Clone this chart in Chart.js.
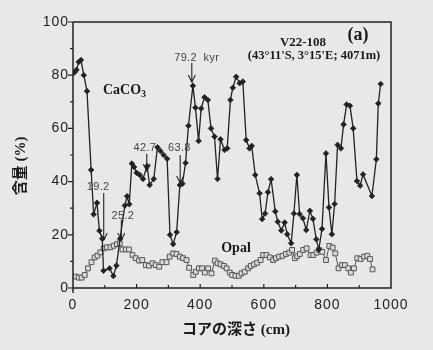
<!DOCTYPE html>
<html><head><meta charset="utf-8">
<script src="https://cdn.jsdelivr.net/npm/chart.js@4.4.1/dist/chart.umd.min.js"></script>
<style>html,body{margin:0;padding:0;background:#e8e8e6;}#wrap{width:433px;height:350px;}</style>
</head><body><div id="wrap"><canvas id="c" width="433" height="350"></canvas></div>
<script>
// ---- data (depth in cm, content in %) ----
const caco3Depth = [4,11,18,25,34,44,57,65,75.5,83,92,96,115,127,136.5,148,163,170,177,185,192,200,210,220,233,241,254,265.6,275,285,296,305,315,326,336,344,354,363,377,385,395,403,413.5,424,434,445,454.5,464,476.5,485,495,502.6,513,524,534,544.6,555,562,573,586.7,595,604,613,623,636,644,655,665.5,673.6,686,694.7,704,712.5,723,733.5,745,754.5,765,773,783,795.5,805,814,822.7,832,842.6,851,860.6,871,881,893,903,912,940,954,960,967.5];
const caco3Pct = [81,82,85,85.7,80,74,44.4,27.7,32,21.5,18.5,6.5,7.4,4.5,8.4,18.5,31,34.5,31.5,46.8,45.5,43.3,42.5,41,45.8,38.7,41,52.9,51.5,50,48.6,20,16.5,21,38.7,39.2,47,61,76,67.8,55.3,67.5,71.7,70.7,60,56.9,41,55.9,51.9,52.5,70.7,75.3,79.4,77,77.6,55.6,52.5,53.4,42.5,35.6,25.9,28,36,40.9,28.8,24.9,21.6,24.6,20.2,16.8,28,42.5,27.8,26.2,21.8,29,26,18.3,14.5,22.2,50.6,30.3,20.2,31.6,53.8,52.5,61.5,69,68.5,60,40.2,38.5,42.7,34.6,48.4,69.4,76.7];
const opalDepth = [8.5,18,27,37,47,58,68,77,86,96.6,107,118,128,138,147,155.5,166,176,187,197,208,218,229,239,250,260,271,281,294,304,315,325.5,336,346,357,365,378,386,396,406,414.5,425,435.6,446,454.5,464,474,483,493,500.5,511,521.5,530,540,551,559,569,579,590,598,608.6,619,629.5,638,648,659,669.5,680,689,698,705,713.5,724,734.6,747,755.5,766,774,784,795.5,806,816.5,824.7,835,846,855,865.6,874,883.5,894,904.6,915,925.5,934,942];
const opalPct = [4.3,3.9,3.9,4.9,7.4,9.7,11.5,12.2,13.4,14.9,15.3,15.3,15.9,16.5,16.8,14.5,14.5,14.5,12.4,11.2,10.3,10.5,8.6,8.4,9.3,8.6,8,9.7,9.7,11.8,13,12.8,11.8,11.2,10.5,7.6,4.9,6.1,7.4,7.4,5.8,7.4,5.5,10.3,9.3,8.9,8.3,7.4,5.8,4.9,4.6,4.6,5.5,6.1,7.4,8.3,8.9,9.5,10.5,12.4,12.4,11.5,10.5,11.2,11.8,12.1,12.8,13.3,14.3,11.2,12,12.8,14.3,14.9,12.4,12.4,13.3,14.3,13.6,10.5,15.8,15.2,13,7.4,8.6,8.6,7.4,5.8,7.4,11.2,10.9,11.8,12.1,10.9,7];
const xTickValues = [0,200,400,600,800,1000];
const yTickValues = [0,20,40,60,80,100];
const seriesNames = ['CaCO3','Opal'];
// age markers (kyr) at core depth, arrow from topPct down to tipPct
const annoLabels = ['19.2','25.2','42.7','63.8','79.2  kyr'];
const annoDepth = [96.6,152,232,337,373.6];
const annoTopPct = [35.7,25.6,50.5,50,84.6];
const annoTipPct = [18,18,44,39.5,77.4];
// label anchor (depth, %) for the marker texts
const annoTextDepth = [79,156.5,226,334.5,389];
const annoTextPct = [38,27,52.6,52.6,86.6];

const toXY = (xs, ys) => xs.map((x, i) => ({x: x, y: ys[i]}));

const deco = {
  id: 'deco',
  beforeDraw(chart) {
    const ctx = chart.ctx;
    ctx.save();
    ctx.fillStyle = '#e8e8e6';
    ctx.fillRect(0, 0, chart.width, chart.height);
    ctx.restore();
    ctx.letterSpacing = '1px';
  },
  afterDraw(chart) {
    const ctx = chart.ctx;
    const xs = chart.scales.x, ys = chart.scales.y;
    const L = xs.left, R = xs.right, T = ys.top, B = ys.bottom;
    ctx.save();
    ctx.letterSpacing = '0px';
    ctx.strokeStyle = '#222';
    ctx.lineWidth = 1.5;
    ctx.beginPath();
    ctx.moveTo(L, T); ctx.lineTo(R, T); ctx.lineTo(R, B); ctx.lineTo(L, B);
    ctx.moveTo(L, T); ctx.lineTo(L, B + 5);
    ctx.stroke();
    ctx.lineWidth = 1.2;
    ctx.beginPath();
    for (let v = 0; v <= 100; v += 10) {
      const py = ys.getPixelForValue(v);
      const len = (v % 20 === 0) ? 5 : 3;
      ctx.moveTo(L - len, py); ctx.lineTo(L, py);
    }
    for (let v = 100; v < 1000; v += 100) {
      const px = xs.getPixelForValue(v);
      const len = (v % 200 === 0) ? 4 : 3;
      ctx.moveTo(px, B); ctx.lineTo(px, B - len);
    }
    ctx.stroke();

    // age arrows
    ctx.strokeStyle = '#222';
    ctx.lineWidth = 1.1;
    for (let i = 0; i < annoLabels.length; i++) {
      const px = xs.getPixelForValue(annoDepth[i]);
      const py0 = ys.getPixelForValue(annoTopPct[i]);
      const py1 = ys.getPixelForValue(annoTipPct[i]);
      ctx.beginPath();
      ctx.moveTo(px, py0); ctx.lineTo(px, py1);
      ctx.moveTo(px - 3.5, py1 - 7); ctx.lineTo(px, py1); ctx.lineTo(px + 3.5, py1 - 7);
      ctx.stroke();
    }
    ctx.fillStyle = '#444';
    ctx.font = '11px "Liberation Sans", Arial, sans-serif';
    ctx.letterSpacing = '0.3px';
    ctx.textAlign = 'center';
    ctx.textBaseline = 'middle';
    for (let i = 0; i < annoLabels.length; i++) {
      ctx.fillText(annoLabels[i], xs.getPixelForValue(annoTextDepth[i]), ys.getPixelForValue(annoTextPct[i]));
    }
    ctx.letterSpacing = '0px';

    // series labels and headings
    ctx.fillStyle = '#1a1a1a';
    ctx.font = 'bold 14px "Liberation Serif", serif';
    ctx.textAlign = 'left';
    ctx.fillText('CaCO', 103, 90);
    const w = ctx.measureText('CaCO').width;
    ctx.font = 'bold 10px "Liberation Serif", serif';
    ctx.fillText('3', 103 + w, 94);
    ctx.font = 'bold 14px "Liberation Serif", serif';
    ctx.textAlign = 'center';
    ctx.fillText('Opal', 236, 248);
    ctx.font = 'bold 13px "Liberation Serif", serif';
    ctx.fillText('V22-108', 303, 43);
    ctx.font = 'bold 12.5px "Liberation Serif", serif';
    ctx.fillText("(43°11'S, 3°15'E; 4071m)", 314, 56);
    ctx.font = 'bold 18px "Liberation Serif", serif';
    ctx.fillText('(a)', 358, 35);

    // axis titles
    ctx.font = 'bold 15px "Liberation Serif", "Noto Sans CJK JP", serif';
    ctx.fillText('コアの深さ (cm)', 236, 330);
    ctx.save();
    ctx.translate(21, 166);
    ctx.rotate(-Math.PI / 2);
    ctx.fillText('含量 (%)', 0, 0);
    ctx.restore();
    ctx.restore();
  }
};

new Chart(document.getElementById('c'), {
  type: 'scatter',
  data: {
    datasets: [
      {
        label: seriesNames[0],
        data: toXY(caco3Depth, caco3Pct),
        showLine: true,
        borderColor: '#222',
        borderWidth: 1.3,
        backgroundColor: '#222',
        pointStyle: 'rectRot',
        pointRadius: 2.8,
        pointBorderWidth: 0.8,
        pointBorderColor: '#222',
        order: 1
      },
      {
        label: seriesNames[1],
        data: toXY(opalDepth, opalPct),
        showLine: true,
        borderColor: '#555',
        borderWidth: 1,
        backgroundColor: '#dcdcda',
        pointStyle: 'rect',
        pointRadius: 3.4,
        pointBorderWidth: 1,
        pointBorderColor: '#555',
        order: 2
      }
    ]
  },
  options: {
    responsive: false,
    animation: false,
    devicePixelRatio: 1,
    layout: {padding: {left: 0, top: 22, right: 42, bottom: 0}},
    plugins: {legend: {display: false}, tooltip: {enabled: false}},
    scales: {
      x: {
        type: 'linear', min: 0, max: 1000,
        afterFit: s => { s.height = 62; },
        afterBuildTicks: s => { s.ticks = xTickValues.map(v => ({value: v})); },
        grid: {display: false, drawTicks: false},
        border: {display: false},
        ticks: {color: '#222', padding: 9, maxRotation: 0, callback: v => String(v), font: {family: '"Liberation Sans", Arial, sans-serif', size: 14}}
      },
      y: {
        type: 'linear', min: 0, max: 100,
        afterFit: s => { s.width = 73; },
        afterBuildTicks: s => { s.ticks = yTickValues.map(v => ({value: v})); },
        grid: {display: false, drawTicks: false},
        border: {display: false},
        ticks: {color: '#222', padding: 4, callback: v => String(v), font: {family: '"Liberation Sans", Arial, sans-serif', size: 14}}
      }
    }
  },
  plugins: [deco]
});
</script></body></html>
